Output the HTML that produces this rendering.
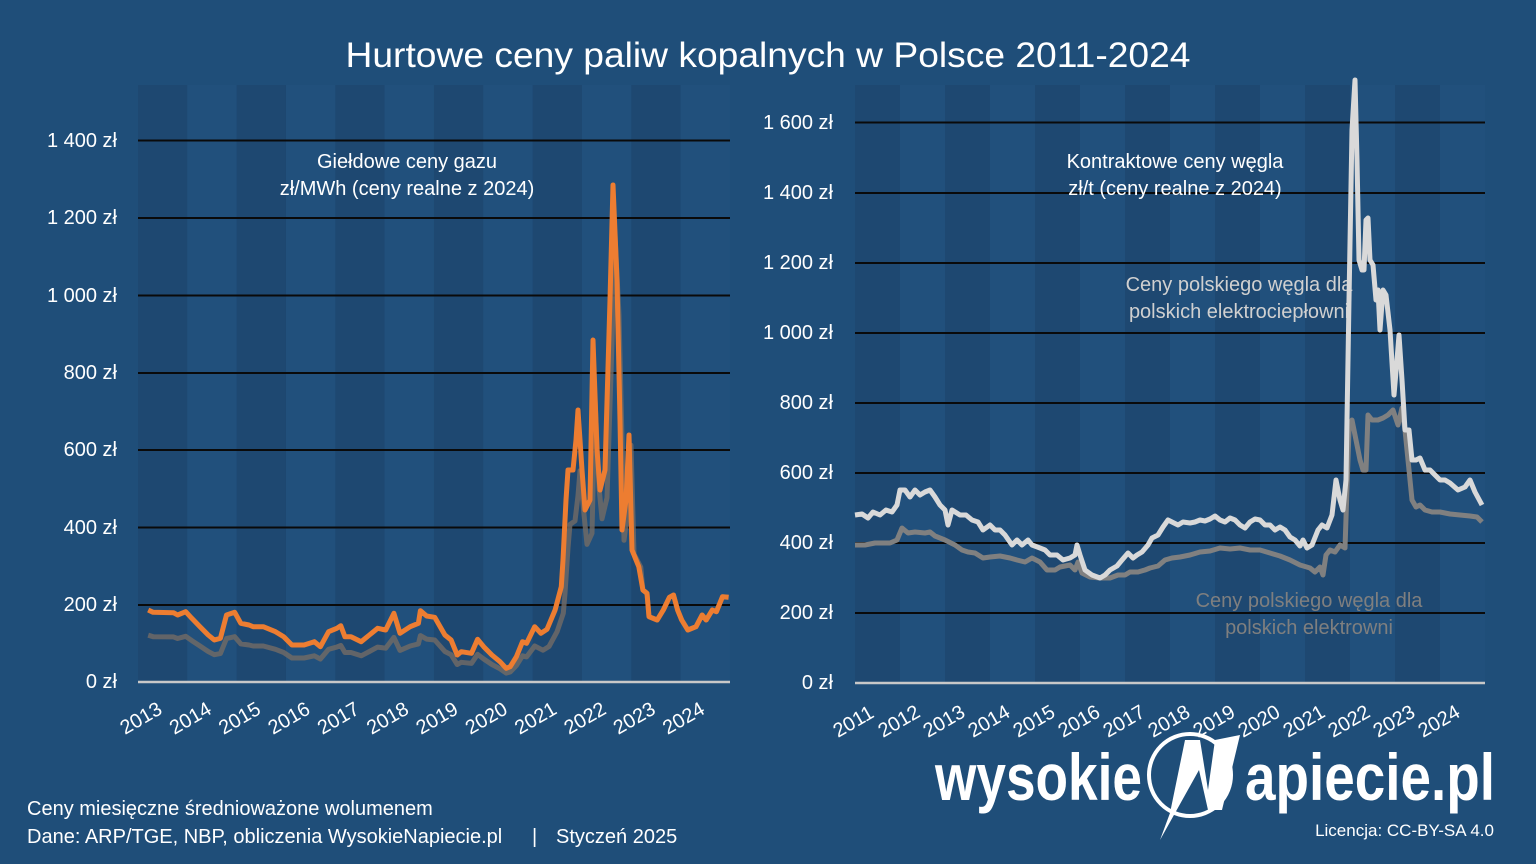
<!DOCTYPE html>
<html><head><meta charset="utf-8"><style>
html,body{margin:0;padding:0;background:#1f4e79;}
svg{display:block;font-family:"Liberation Sans","DejaVu Sans",sans-serif;}
</style></head><body>
<svg id="s" width="1536" height="864" viewBox="0 0 1536 864" xmlns="http://www.w3.org/2000/svg">
<rect width="1536" height="864" fill="#1f4e79"/>
<g id="bandsL"></g><g id="bandsR"></g>
<g stroke="#0a0a0a" stroke-width="2">
<line x1="138" x2="730" y1="140.5" y2="140.5"/><line x1="138" x2="730" y1="218" y2="218"/><line x1="138" x2="730" y1="295.5" y2="295.5"/><line x1="138" x2="730" y1="373" y2="373"/><line x1="138" x2="730" y1="450" y2="450"/><line x1="138" x2="730" y1="527.5" y2="527.5"/><line x1="138" x2="730" y1="605" y2="605"/>
<line x1="855" x2="1485" y1="122.5" y2="122.5"/><line x1="855" x2="1485" y1="193" y2="193"/><line x1="855" x2="1485" y1="263" y2="263"/><line x1="855" x2="1485" y1="333" y2="333"/><line x1="855" x2="1485" y1="403" y2="403"/><line x1="855" x2="1485" y1="473" y2="473"/><line x1="855" x2="1485" y1="543" y2="543"/><line x1="855" x2="1485" y1="613" y2="613"/>
</g>
<line x1="138" x2="730" y1="682" y2="682" stroke="#c8c8c8" stroke-width="2.5"/>
<line x1="855" x2="1485" y1="683" y2="683" stroke="#c8c8c8" stroke-width="2.5"/>
<text x="768" y="67" fill="#fff" font-size="35" text-anchor="middle" textLength="845" lengthAdjust="spacingAndGlyphs">Hurtowe ceny paliw kopalnych w Polsce 2011-2024</text>
<g fill="#fff" font-size="20" text-anchor="end">
<text x="117" y="147">1 400 zł</text><text x="117" y="224">1 200 zł</text><text x="117" y="302">1 000 zł</text><text x="117" y="379">800 zł</text><text x="117" y="456">600 zł</text><text x="117" y="534">400 zł</text><text x="117" y="611">200 zł</text><text x="117" y="688">0 zł</text>
<text x="833" y="129">1 600 zł</text><text x="833" y="199">1 400 zł</text><text x="833" y="269">1 200 zł</text><text x="833" y="339">1 000 zł</text><text x="833" y="409">800 zł</text><text x="833" y="479">600 zł</text><text x="833" y="549">400 zł</text><text x="833" y="619">200 zł</text><text x="833" y="689">0 zł</text>
</g>
<g id="xl" fill="#fff" font-size="20"></g>
<g fill="#fff" font-size="20" text-anchor="middle">
<text x="407" y="168">Giełdowe ceny gazu</text><text x="407" y="195">zł/MWh (ceny realne z 2024)</text>
<text x="1175" y="168">Kontraktowe ceny węgla</text><text x="1175" y="195">zł/t (ceny realne z 2024)</text>
</g>
<g fill="#d0d0d0" font-size="20" text-anchor="middle">
<text x="1239" y="291">Ceny polskiego węgla dla</text><text x="1239" y="318">polskich elektrociepłowni</text>
</g>
<g fill="#7f7f7f" font-size="20" text-anchor="middle">
<text x="1309" y="607">Ceny polskiego węgla dla</text><text x="1309" y="634">polskich elektrowni</text>
</g>
<polyline id="gasG" fill="none" stroke="#6f6a66" stroke-opacity="0.85" stroke-width="5" stroke-linejoin="round"/>
<polyline id="gasO" fill="none" stroke="#ed7d31" stroke-width="5" stroke-linejoin="round"/>
<polyline fill="none" stroke="#808080" stroke-width="5" stroke-linejoin="round" points="855,545 865,545 875,543 890,543 897,540 902,528 908,533 915,532 925,533 930,532 935,536 945,540 955,545 962,550 968,552 975,553 983,558 990,557 1000,556 1010,558 1017,560 1025,562 1032,558 1040,562 1047,570 1055,570 1060,567 1070,565 1075,570 1078,562 1082,573 1090,577 1100,578 1110,578 1118,575 1125,575 1130,572 1138,572 1145,570 1150,568 1158,566 1165,560 1172,558 1180,557 1190,555 1200,552 1210,551 1220,548 1230,549 1240,548 1250,550 1260,550 1270,553 1280,556 1290,560 1300,565 1310,568 1315,572 1320,567 1323,575 1326,555 1330,550 1335,552 1340,545 1345,548 1349,430 1352,420 1356,440 1360,460 1363,470 1366,470 1368,415 1372,420 1378,420 1383,418 1388,415 1393,410 1398,425 1402,408 1405,430 1409,470 1412,500 1416,507 1420,505 1425,510 1432,512 1440,512 1450,514 1460,515 1470,516 1477,517 1482,522"/>
<polyline fill="none" stroke="#d9d9d9" stroke-width="5" stroke-linejoin="round" points="855,515 862,514 868,518 873,512 880,515 886,510 892,512 897,505 900,490 905,490 910,497 915,490 920,495 925,492 930,490 935,497 940,505 945,510 948,525 952,510 960,515 966,515 972,520 978,522 983,530 990,525 995,530 1000,530 1005,535 1012,545 1017,540 1022,545 1028,540 1032,545 1040,548 1045,550 1050,555 1057,555 1063,560 1070,558 1075,555 1077,545 1080,555 1085,570 1092,575 1100,578 1105,575 1110,570 1117,566 1122,560 1128,553 1133,558 1137,555 1142,552 1148,545 1152,538 1158,535 1163,527 1168,520 1172,522 1178,525 1183,522 1190,523 1195,522 1200,520 1205,521 1210,519 1215,516 1220,520 1225,522 1230,518 1235,520 1240,525 1245,528 1250,522 1255,519 1260,520 1265,525 1270,525 1275,530 1280,527 1285,530 1290,537 1295,540 1300,546 1303,540 1307,548 1312,545 1318,530 1322,525 1327,528 1332,515 1336,480 1340,500 1343,510 1346,480 1349,300 1352,130 1355,80 1357,160 1359,260 1362,270 1364,270 1366,220 1368,218 1370,260 1373,265 1376,300 1378,290 1380,330 1383,290 1386,295 1390,330 1394,395 1397,360 1399,335 1402,380 1405,430 1409,430 1412,460 1416,460 1420,458 1425,470 1430,470 1435,475 1440,480 1445,480 1450,483 1458,490 1465,487 1470,480 1475,492 1482,505"/>
<g fill="#fff" font-size="20">
<text x="27" y="815">Ceny miesięczne średnioważone wolumenem</text>
<text x="27" y="843">Dane: ARP/TGE, NBP, obliczenia WysokieNapiecie.pl</text>
<text x="532" y="843">|</text>
<text x="556" y="843">Styczeń 2025</text>
<text x="1494" y="836" text-anchor="end" font-size="17">Licencja: CC-BY-SA 4.0</text>
</g>
<g fill="#fff" font-weight="bold" font-size="66">
<text x="935" y="800" textLength="207" lengthAdjust="spacingAndGlyphs">wysokie</text>
<text x="1245" y="800" textLength="250" lengthAdjust="spacingAndGlyphs">apiecie.pl</text>
</g>
<circle cx="1190" cy="775" r="41" fill="none" stroke="#fff" stroke-width="4"/>
<polygon points="1170,813 1185,740 1200,740 1208,790 1215,740 1240,735 1222,810 1208,810 1199,770 1160,840" fill="#fff"/>
</svg>
<script>
const NS="http://www.w3.org/2000/svg";
function el(t,a,p){const e=document.createElementNS(NS,t);for(const k in a)e.setAttribute(k,a[k]);if(p)p.appendChild(e);return e;}
const bl=document.getElementById('bandsL'),br=document.getElementById('bandsR');
for(let i=0;i<12;i++)el('rect',{x:138+i*49.33,y:85,width:49.33,height:597,fill:i%2?'#21507c':'#1e4871'},bl);
for(let i=0;i<14;i++)el('rect',{x:855+i*45,y:85,width:45,height:598,fill:i%2?'#21507c':'#1e4871'},br);
const xl=document.getElementById('xl');
for(let i=0;i<12;i++){const x=125+i*49.33,y=735;const t=el('text',{x:x,y:y,transform:`rotate(-30 ${x} ${y})`},xl);t.textContent=2013+i;}
for(let i=0;i<14;i++){const x=838+i*45,y=738;const t=el('text',{x:x,y:y,transform:`rotate(-30 ${x} ${y})`},xl);t.textContent=2011+i;}
const z=[[118,390],[130,397],[180,398],[190,405],[210,395],[225,415],[245,440],[265,465],[280,480],[295,475],[310,405],[330,397],[345,430],[365,435],[375,440],[400,440],[430,455],[450,470],[470,495],[500,495],[525,485],[540,500],[560,455],[580,445],[590,437],[600,470],[615,470],[640,485],[660,465],[680,445],[700,450],[720,400],[735,460],[760,440],[780,430],[785,392],[800,408],[820,412],[845,465],[860,480],[875,525],[885,515],[910,520],[925,478],[940,500],[960,525],[980,545],[995,565],[1005,560],[1020,530],[1035,485],[1045,490],[1065,440],[1080,460],[1095,448],[1115,390],[1130,320]];
let pts=z.map(p=>[100+p[0]*0.4082,480+p[1]/3]);
pts=pts.concat([[563,560],[566,500],[568,470],[573,470],[576,440],[578,410],[582,470],[585,510],[590,500],[593,340],[597,450],[600,490],[605,470],[610,300],[613,185],[617,280],[620,420],[622,530],[626,500],[629,435],[632,550]]);
const z2=[[1320,260],[1330,330],[1340,340],[1345,410],[1365,420],[1380,390],[1395,352],[1405,345],[1415,390],[1425,420],[1440,450],[1460,440],[1475,405],[1485,420],[1500,390],[1510,395],[1525,350],[1540,352]];
pts=pts.concat(z2.map(p=>[100+p[0]*0.4082,480+p[1]/3]));
document.getElementById('gasO').setAttribute('points',pts.map(p=>p[0].toFixed(1)+','+p[1].toFixed(1)).join(' '));
const g=pts.map(p=>{const v=(682-p[1]);let f;const x=p[0];if(x<540)f=0.65;else if(x<600)f=0.65+(x-540)/60*0.2;else if(x<640)f=0.85+(x-600)/40*0.15;else f=1;return [x+(x>540&&x<640?2:0),682-v*f];});
document.getElementById('gasG').setAttribute('points',g.map(p=>p[0].toFixed(1)+','+p[1].toFixed(1)).join(' '));
</script>
</body></html>
